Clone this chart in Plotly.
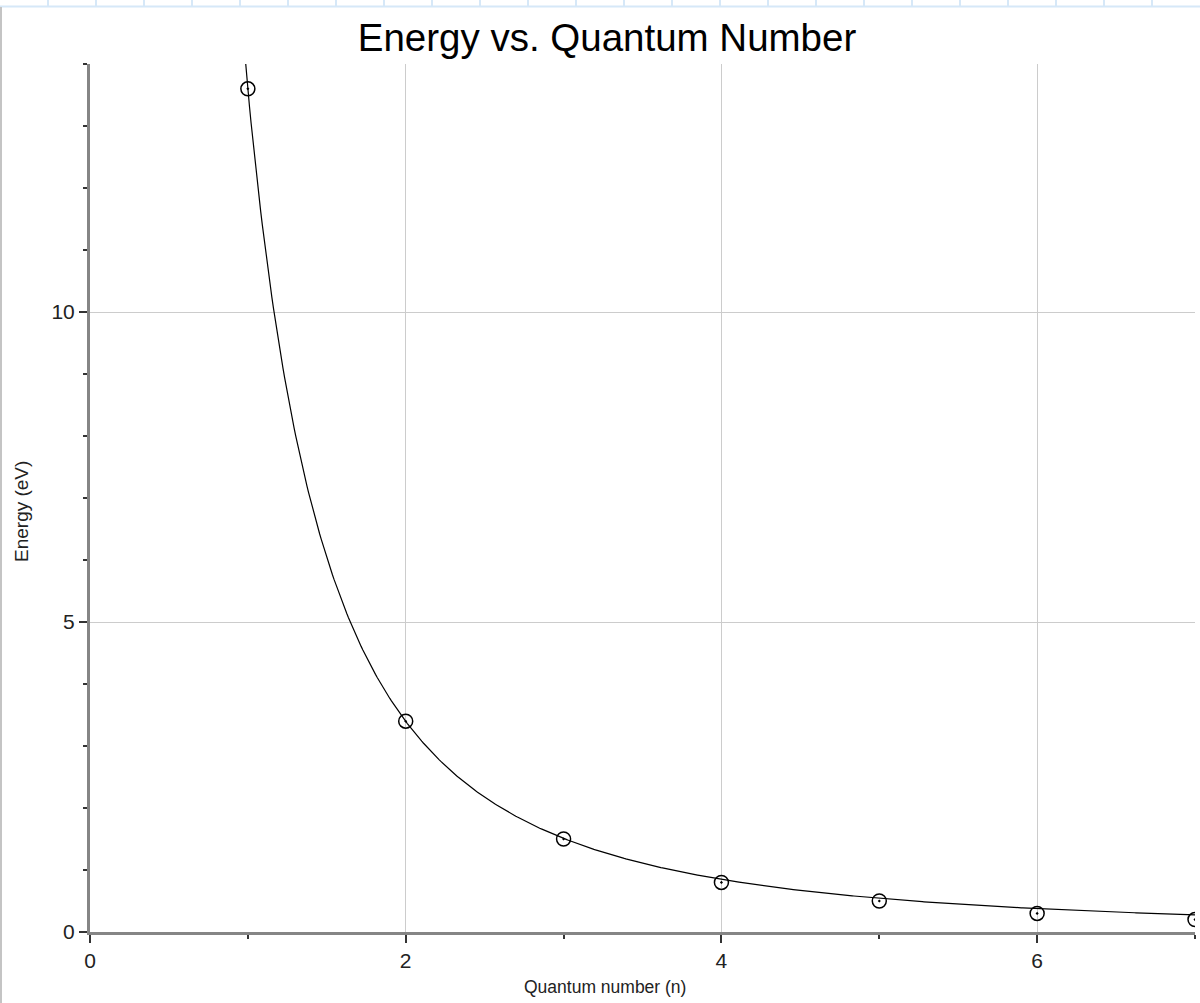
import numpy as np
import plotly.graph_objects as go

# Measured energy levels
quantum_number = [1, 2, 3, 4, 5, 6, 7]
energy_ev = [13.6, 3.4, 1.5, 0.8, 0.5, 0.3, 0.2]

W, H = 1200, 1003
ML, MR, MT, MB = 90, 5, 64, 71
X_RANGE = [0, 7]
Y_RANGE = [0, 14]

# Least-squares fit of E = A / n^2 to the measurements
n_arr = np.array(quantum_number, dtype=float)
e_arr = np.array(energy_ev, dtype=float)
fit_a = np.sum(e_arr / n_arr**2) / np.sum(1.0 / n_arr**4)
n_fit = np.linspace(0.95, 7.0, 600)
e_fit = fit_a / n_fit**2

fig = go.Figure()
fig.add_trace(go.Scatter(
    x=n_fit, y=e_fit, mode="lines",
    line=dict(color="black", width=1.2),
    hoverinfo="skip", showlegend=False,
))
fig.add_trace(go.Scatter(
    x=quantum_number, y=energy_ev, mode="markers",
    marker=dict(symbol="circle-open-dot", size=14, color="black",
                line=dict(color="black", width=1.5)),
    showlegend=False,
))

tick_font = dict(family="Liberation Sans Narrow, Arial Narrow, sans-serif", size=21, color="#222222")
axis_common = dict(
    showline=True, linecolor="#858585", linewidth=3,
    showgrid=True, gridcolor="#cccccc", gridwidth=1,
    zeroline=False,
    ticks="outside", ticklen=8, tickwidth=2, tickcolor="#333333",
    tickfont=tick_font,
    minor=dict(dtick=1, ticks="outside", ticklen=4, tickwidth=2,
               tickcolor="#333333", showgrid=False),
)

fig.update_xaxes(range=X_RANGE, dtick=2, tick0=0, **axis_common)
fig.update_yaxes(range=Y_RANGE, dtick=5, tick0=0, **axis_common)


def px_x(px):
    return (px - ML) / (W - ML - MR)


def px_y(py):
    return (H - MB - py) / (H - MT - MB)


# Window frame: light-blue ruler strip along the top and grey left border
shapes = [
    dict(type="line", xref="paper", yref="paper",
         x0=px_x(0), x1=px_x(W), y0=px_y(6.5), y1=px_y(6.5),
         line=dict(color="#d6e8f8", width=2)),
    dict(type="line", xref="paper", yref="paper",
         x0=px_x(1), x1=px_x(1), y0=px_y(7), y1=px_y(H),
         line=dict(color="#c4c4c4", width=2)),
]
for sep in range(48, W, 48):
    shapes.append(dict(type="line", xref="paper", yref="paper",
                       x0=px_x(sep), x1=px_x(sep), y0=px_y(0), y1=px_y(6),
                       line=dict(color="#d6e8f8", width=2)))

label_font = dict(family="Liberation Sans, Arial, sans-serif", color="#222222")
annotations = [
    dict(text="Quantum number (n)", xref="paper", yref="paper",
         x=px_x(605), y=px_y(987), xanchor="center", yanchor="middle",
         showarrow=False, font=dict(size=17.5, **label_font)),
    dict(text="Energy (eV)", xref="paper", yref="paper",
         x=px_x(21), y=px_y(512), xanchor="center", yanchor="middle",
         textangle=-90, showarrow=False, font=dict(size=19, **label_font)),
]

fig.update_layout(
    width=W, height=H,
    margin=dict(l=ML, r=MR, t=MT, b=MB),
    paper_bgcolor="white", plot_bgcolor="white",
    title=dict(text="Energy vs. Quantum Number", x=607 / W, xref="container",
               xanchor="center", y=1 - 38 / H, yref="container", yanchor="middle",
               font=dict(family="Liberation Sans, Arial, sans-serif", size=38.5, color="black")),
    shapes=shapes,
    annotations=annotations,
)

fig.write_html("out.html")
